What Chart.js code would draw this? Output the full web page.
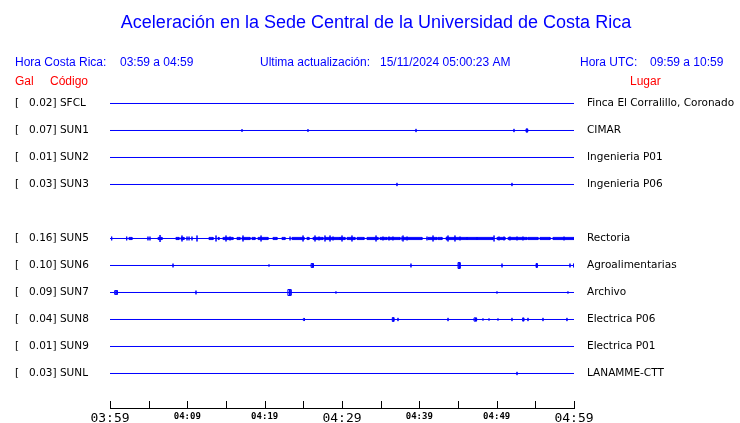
<!DOCTYPE html>
<html>
<head>
<meta charset="utf-8">
<script src="https://cdn.jsdelivr.net/npm/chart.js@4.4.0/dist/chart.umd.min.js"></script>
<style>
  html, body { margin: 0; padding: 0; background: #fff; }
  canvas { display: block; }
</style>
</head>
<body>
<canvas id="grafico" width="740" height="423"></canvas>
<script>
const titulo = 'Aceleración en la Sede Central de la Universidad de Costa Rica';
const codigos = ['SFCL', 'SUN1', 'SUN2', 'SUN3', '', 'SUN5', 'SUN6', 'SUN7', 'SUN8', 'SUN9', 'SUNL'];
const gal = [0.02, 0.07, 0.01, 0.03, null, 0.16, 0.10, 0.09, 0.04, 0.01, 0.03];
const lugares = ['Finca El Corralillo, Coronado', 'CIMAR', 'Ingenieria P01', 'Ingenieria P06', '',
  'Rectoria', 'Agroalimentarias', 'Archivo', 'Electrica P06', 'Electrica P01', 'LANAMME-CTT'];
const horas = ['03:59', '', '04:09', '', '04:19', '', '04:29', '', '04:39', '', '04:49', '', '04:59'];

// eventos por estacion: [minuto inicio, minuto fin, amplitud]
const evSFCL = [];
const evSUN1 = [[17.07, 17.07, 0.05], [25.60, 25.60, 0.05], [39.57, 39.57, 0.06], [52.24, 52.24, 0.06],
  [53.8, 54.0, 0.06], [53.9, 53.9, 0.06]];
const evSUN2 = [];
const evSUN3 = [[37.11, 37.11, 0.06], [51.98, 51.98, 0.06]];
const evSUN5 = [[0.22, 0.22, 0.07], [2.16, 2.16, 0.07], [2.46, 2.84, 0.04], [4.91, 4.91, 0.07], [5.17, 5.17, 0.07],
  [6.21, 6.73, 0.04], [6.47, 6.47, 0.13], [8.53, 8.92, 0.04], [9.18, 9.57, 0.04], [9.31, 9.31, 0.11],
  [9.96, 9.96, 0.07], [10.22, 10.22, 0.07], [10.60, 10.60, 0.07], [11.25, 11.25, 0.11], [12.80, 13.32, 0.04],
  [13.71, 13.71, 0.11], [13.97, 14.10, 0.04], [14.61, 15.90, 0.04], [15.0, 15.0, 0.11], [15.52, 15.52, 0.07],
  [16.42, 16.81, 0.04], [17.07, 18.10, 0.04], [17.20, 17.20, 0.11], [18.36, 18.75, 0.04], [19.14, 20.43, 0.04],
  [19.53, 19.53, 0.11], [21.08, 21.59, 0.04], [22.24, 22.63, 0.04], [23.28, 23.28, 0.07], [23.53, 25.09, 0.04],
  [24.96, 24.96, 0.11], [25.47, 25.73, 0.04], [26.25, 27.54, 0.04], [26.51, 26.51, 0.11], [27.03, 27.03, 0.07],
  [27.80, 29.74, 0.04], [27.80, 27.80, 0.11], [28.45, 28.45, 0.11], [28.84, 28.84, 0.07], [29.74, 30.39, 0.04],
  [30.0, 30.0, 0.11], [30.65, 31.68, 0.04], [31.29, 31.29, 0.11], [31.94, 32.84, 0.04], [33.23, 34.66, 0.04],
  [34.40, 34.40, 0.11], [34.91, 35.82, 0.04], [35.30, 35.30, 0.07], [35.95, 37.50, 0.04], [36.08, 36.08, 0.07],
  [36.59, 36.59, 0.07], [37.76, 37.76, 0.07], [37.89, 40.34, 0.04], [37.89, 37.89, 0.11], [38.41, 38.41, 0.07],
  [40.99, 40.99, 0.07], [41.12, 42.28, 0.04], [41.77, 41.77, 0.11], [42.41, 42.93, 0.04], [43.45, 46.16, 0.04],
  [43.58, 43.58, 0.07], [43.71, 43.71, 0.11], [44.61, 44.61, 0.11], [45.26, 45.26, 0.07], [46.16, 47.46, 0.04],
  [47.46, 49.53, 0.04], [49.66, 49.66, 0.11], [50.04, 51.08, 0.04], [50.30, 50.30, 0.07], [50.95, 50.95, 0.07],
  [51.47, 53.92, 0.04], [51.72, 51.72, 0.07], [52.63, 52.63, 0.07], [53.40, 53.40, 0.07], [54.05, 55.34, 0.04],
  [55.60, 56.90, 0.04], [57.28, 60, 0.04], [58.71, 58.71, 0.07]];
const evSUN6 = [[8.15, 8.15, 0.07], [20.56, 20.56, 0.04], [26.0, 26.3, 0.07], [26.15, 26.15, 0.07], [38.92, 38.92, 0.07],
  [45.0, 45.26, 0.11], [45.13, 45.13, 0.11], [50.69, 50.69, 0.07], [55.09, 55.25, 0.07], [55.17, 55.17, 0.07],
  [59.48, 59.48, 0.07], [59.95, 59.95, 0.07]];
const evSUN7 = [[0.6, 0.95, 0.07], [0.78, 0.78, 0.07], [11.12, 11.12, 0.07], [23.0, 23.4, 0.11], [23.2, 23.2, 0.11],
  [29.22, 29.22, 0.04], [50.04, 50.04, 0.04], [59.22, 59.22, 0.04]];
const evSUN8 = [[25.0, 25.15, 0.04], [36.5, 36.7, 0.07], [36.6, 36.6, 0.07], [37.24, 37.24, 0.06], [43.71, 43.71, 0.06],
  [47.07, 47.4, 0.06], [47.25, 47.25, 0.06], [48.23, 48.23, 0.04], [49.01, 49.01, 0.04], [50.17, 50.17, 0.04],
  [51.98, 51.98, 0.06], [53.35, 53.5, 0.06], [54.05, 54.05, 0.06], [55.99, 55.99, 0.06], [59.09, 59.09, 0.06]];
const evSUN9 = [];
const evSUNL = [[52.63, 52.63, 0.06]];

const estaciones = [evSFCL, evSUN1, evSUN2, evSUN3, null, evSUN5, evSUN6, evSUN7, evSUN8, evSUN9, evSUNL];

function traza(fila, eventos) {
  const pts = [{ x: 0, y: fila }];
  eventos.forEach(([t0, t1, a]) => {
    pts.push({ x: t0, y: fila }, { x: t0, y: fila - a }, { x: t1, y: fila - a }, { x: t1, y: fila + a },
      { x: t0, y: fila + a }, { x: t0, y: fila }, { x: t1, y: fila });
  });
  pts.push({ x: 60, y: fila });
  return pts;
}

const datasets = [];
estaciones.forEach((ev, i) => {
  if (!ev) return;
  datasets.push({
    label: codigos[i],
    type: 'line',
    data: traza(i, ev),
    borderColor: '#0000ff',
    borderWidth: 1,
    pointRadius: 0,
    tension: 0,
    yAxisID: 'y'
  });
});

const encabezado = {
  id: 'encabezado',
  afterDraw(chart) {
    const c = chart.ctx;
    const x = chart.scales.x;
    c.save();
    // eje de tiempo
    c.strokeStyle = '#000';
    c.lineWidth = 1;
    c.beginPath();
    c.moveTo(x.left, x.top + 0.5);
    c.lineTo(x.right + 1, x.top + 0.5);
    x.ticks.forEach(t => {
      const px = Math.round(x.getPixelForValue(t.value)) + 0.5;
      c.moveTo(px, x.top + 0.5);
      c.lineTo(px, x.top - 7);
    });
    c.stroke();
    // textos
    c.textBaseline = 'alphabetic';
    c.textAlign = 'center';
    c.fillStyle = '#0000ff';
    c.font = '18px "Liberation Sans"';
    c.fillText(titulo, 376, 28);
    c.textAlign = 'left';
    c.font = '12px "Liberation Sans"';
    c.fillText('Hora Costa Rica:', 15, 66);
    c.fillText('03:59 a 04:59', 120, 66);
    c.fillText('Ultima actualización:', 260, 66);
    c.fillText('15/11/2024 05:00:23 AM', 380, 66);
    c.fillText('Hora UTC:', 580, 66);
    c.fillText('09:59 a 10:59', 650, 66);
    c.fillStyle = '#ff0000';
    c.fillText('Gal', 15, 85);
    c.fillText('Código', 50, 85);
    c.fillText('Lugar', 630, 85);
    c.restore();
  }
};

const ctx = document.getElementById('grafico');

new Chart(ctx, {
  data: { datasets: datasets },
  plugins: [encabezado],
  options: {
    responsive: false,
    animation: false,
    layout: { padding: { top: 76.5, left: 15, right: 0, bottom: 0 } },
    plugins: { legend: { display: false }, tooltip: { enabled: false }, title: { display: false } },
    scales: {
      x: {
        type: 'linear',
        position: 'bottom',
        min: 0,
        max: 60,
        grid: { display: false, drawTicks: false },
        border: { display: false },
        afterBuildTicks: s => { s.ticks = horas.map((h, i) => ({ value: i * 5 })); },
        afterFit: s => { s.height = 15; },
        ticks: {
          autoSkip: false,
          maxRotation: 0,
          padding: 3,
          color: '#000',
          callback: (v, i) => horas[i],
          font: c => c.index % 6 === 0
            ? { family: 'DejaVu Sans Mono', size: 13 }
            : { family: 'DejaVu Sans Mono', size: 9, weight: 'bold' }
        }
      },
      y: {
        type: 'linear',
        position: 'left',
        reverse: true,
        min: -1,
        max: 11.278,
        grid: { display: false, drawTicks: false },
        border: { display: false },
        afterBuildTicks: s => { s.ticks = codigos.map((c, i) => ({ value: i })); },
        afterFit: s => { s.width = 95; },
        ticks: {
          autoSkip: false,
          padding: 0,
          crossAlign: 'far',
          color: '#000',
          font: { family: 'DejaVu Sans', size: 10.5 },
          callback: (v, i) => codigos[i] ? '[   ' + gal[i].toFixed(2) + '] ' + codigos[i] : ''
        }
      },
      y2: {
        type: 'linear',
        position: 'right',
        reverse: true,
        min: -1,
        max: 11.278,
        grid: { display: false, drawTicks: true, tickLength: 13 },
        border: { display: false },
        afterBuildTicks: s => { s.ticks = lugares.map((l, i) => ({ value: i })); },
        afterFit: s => { s.width = 166; },
        ticks: {
          autoSkip: false,
          padding: 0,
          color: '#000',
          font: { family: 'DejaVu Sans', size: 10.5 },
          callback: (v, i) => lugares[i]
        }
      }
    }
  }
});
</script>
</body>
</html>
